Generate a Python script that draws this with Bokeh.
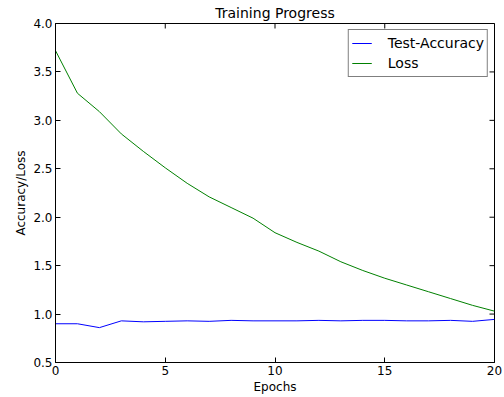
import math
from bokeh.plotting import figure
from bokeh.models import Range1d, FixedTicker, Legend, LegendItem, PrintfTickFormatter
from bokeh.embed import file_html
from bokeh.resources import INLINE

epochs = list(range(21))
accuracy = [0.90, 0.90, 0.86, 0.93, 0.92, 0.925, 0.93, 0.925, 0.935, 0.93, 0.93,
            0.93, 0.935, 0.93, 0.935, 0.935, 0.93, 0.93, 0.935, 0.925, 0.945]
loss = [3.72, 3.28, 3.09, 2.86, 2.68, 2.51, 2.35, 2.21, 2.10, 1.99, 1.84,
        1.74, 1.65, 1.54, 1.45, 1.37, 1.30, 1.23, 1.16, 1.09, 1.03]
x_ticks = [0, 5, 10, 15, 20]
y_ticks = [0.5, 1.0, 1.5, 2.0, 2.5, 3.0, 3.5, 4.0]
x_min, x_max = 0, 20
y_min, y_max = 0.5, 4.0

FONT = "DejaVu Sans"

p = figure(width=504, height=397, output_backend="svg", toolbar_location=None,
           x_range=Range1d(x_min, x_max), y_range=Range1d(y_min, y_max),
           title="Training Progress",
           min_border_left=55, min_border_right=10, min_border_top=23, min_border_bottom=35)
p.title.align = "center"
p.title.text_font = FONT
p.title.text_font_size = "14px"
p.title.text_font_style = "normal"
p.title.text_color = "black"
p.title.offset = 0
p.title.standoff = 5

p.grid.visible = False
p.outline_line_color = "black"
p.outline_line_width = 1
p.background_fill_color = "white"
p.border_fill_color = "white"

l1 = p.line(epochs, accuracy, line_color="#0000ff", line_width=1)
l2 = p.line(epochs, loss, line_color="#008000", line_width=1)

# inward ticks on the top and right edges (matplotlib classic look)
p.scatter(x_ticks, [y_max] * len(x_ticks), marker="dash", size=10, angle=math.pi / 2,
          line_color="black", line_width=1)
p.scatter([x_max] * len(y_ticks), y_ticks, marker="dash", size=10, angle=0,
          line_color="black", line_width=1)

for ax in p.xaxis:
    ax.ticker = FixedTicker(ticks=x_ticks)
    ax.axis_label = "Epochs"
for ax in p.yaxis:
    ax.ticker = FixedTicker(ticks=y_ticks)
    ax.axis_label = "Accuracy/Loss"
    ax.formatter = PrintfTickFormatter(format="%.1f")
for ax in list(p.xaxis) + list(p.yaxis):
    ax.major_tick_in = 5
    ax.major_tick_out = 0
    ax.minor_tick_line_color = None
    ax.axis_line_color = "black"
    ax.major_tick_line_color = "black"
    ax.major_label_text_font = FONT
    ax.major_label_text_font_size = "12px"
    ax.major_label_text_color = "black"
    ax.axis_label_text_font = FONT
    ax.axis_label_text_font_size = "12px"
    ax.axis_label_text_font_style = "normal"
    ax.axis_label_text_color = "black"
    ax.major_label_standoff = 3
    ax.axis_label_standoff = 2

legend = Legend(items=[LegendItem(label="Test-Accuracy", renderers=[l1]),
                       LegendItem(label="Loss", renderers=[l2])],
                location="top_right")
legend.label_text_font = FONT
legend.label_text_font_size = "14px"
legend.label_text_color = "black"
legend.border_line_color = "black"
legend.border_line_width = 1
legend.background_fill_alpha = 1
legend.glyph_width = 20
legend.glyph_height = 20
legend.label_height = 20
legend.spacing = 0
legend.padding = 3
legend.margin = 6
legend.label_standoff = 16
p.add_layout(legend)

open("out.html", "w").write(file_html(p, INLINE))
